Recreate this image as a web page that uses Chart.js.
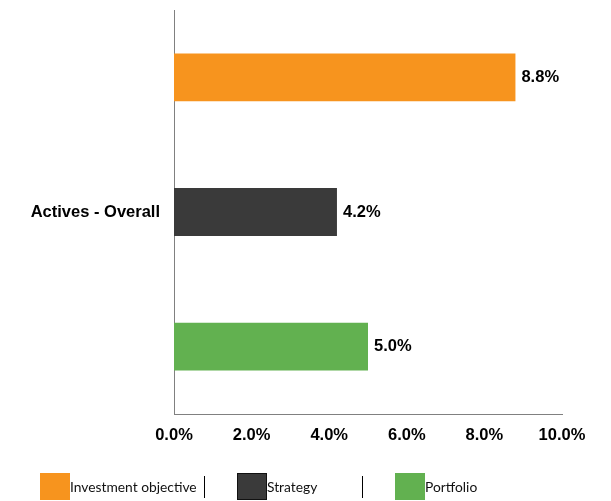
<!DOCTYPE html>
<html>
<head>
<meta charset="utf-8">
<script src="https://cdn.jsdelivr.net/npm/chart.js@4"></script>
<style>
  html, body { margin: 0; padding: 0; background: #fff; }
  #wrap { width: 611px; height: 501px; position: relative; }
</style>
</head>
<body>
<div id="wrap"><canvas id="chart"></canvas></div>
<script>
// Chart data
const categories = ['Actives - Overall'];
const seriesNames = ['Investment objective', 'Strategy', 'Portfolio'];
const seriesValues = [[8.8], [4.2], [5.0]];
const seriesColors = ['#f7941e', '#3a3a3a', '#62b150'];
const tickValues = [0, 2, 4, 6, 8, 10];

const fmt = v => v.toFixed(1) + '%';
const boldFont = '"Liberation Sans", Arial, sans-serif';

// Value labels at the end of each bar
const barLabels = {
    id: 'barLabels',
    afterDatasetsDraw(chart) {
        const ctx = chart.ctx;
        ctx.save();
        ctx.font = 'bold 16.5px ' + boldFont;
        ctx.fillStyle = '#000';
        ctx.textAlign = 'left';
        ctx.textBaseline = 'middle';
        chart.data.datasets.forEach((ds, i) => {
            chart.getDatasetMeta(i).data.forEach((bar, j) => {
                ctx.fillText(fmt(ds.data[j]), bar.x + 6, bar.y);
            });
        });
        ctx.restore();
    }
};

// Legend along the bottom, items split by thin vertical lines
const bottomLegend = {
    id: 'bottomLegend',
    afterDraw(chart) {
        const ctx = chart.ctx;
        const y = 473, boxW = 30, boxH = 27;
        const starts = [40, 237, 395];
        const seps = [204, 362];
        ctx.save();
        ctx.font = '13.8px Lato, "Open Sans", sans-serif';
        ctx.textBaseline = 'middle';
        chart.data.datasets.forEach((ds, i) => {
            const x = starts[i];
            ctx.fillStyle = ds.backgroundColor;
            ctx.fillRect(x, y, boxW, boxH);
            if (i === 1) {
                ctx.strokeStyle = '#111';
                ctx.lineWidth = 1;
                ctx.strokeRect(x + 0.5, y + 0.5, boxW - 1, boxH - 1);
            }
            ctx.fillStyle = '#111';
            ctx.fillText(ds.label, x + boxW, y + boxH / 2 + 1);
        });
        ctx.strokeStyle = '#000';
        ctx.lineWidth = 1;
        seps.forEach(sx => {
            ctx.beginPath();
            ctx.moveTo(sx + 0.5, 476);
            ctx.lineTo(sx + 0.5, 498);
            ctx.stroke();
        });
        ctx.restore();
    }
};

new Chart(document.getElementById('chart'), {
    type: 'bar',
    data: {
        labels: categories,
        datasets: seriesNames.map((name, i) => ({
            label: name,
            data: seriesValues[i],
            backgroundColor: seriesColors[i],
            barPercentage: 0.355,
            categoryPercentage: 1.0
        }))
    },
    options: {
        indexAxis: 'y',
        responsive: true,
        maintainAspectRatio: false,
        animation: false,
        layout: { padding: { top: 10, right: 49, bottom: 50, left: 0 } },
        plugins: {
            legend: { display: false },
            tooltip: { enabled: false }
        },
        scales: {
            x: {
                min: 0,
                max: 10,
                afterBuildTicks: axis => { axis.ticks = tickValues.map(v => ({ value: v })); },
                afterFit: axis => { axis.height = 37; axis.paddingLeft = 0; axis.paddingRight = 0; },
                grid: { display: false, drawTicks: false },
                border: { display: true, color: '#808080', width: 1 },
                ticks: {
                    padding: 12,
                    color: '#000',
                    font: { family: boldFont, size: 16.5, weight: 'bold' },
                    callback: v => fmt(v),
                    maxRotation: 0
                }
            },
            y: {
                afterFit: axis => { axis.width = 174; axis.paddingTop = 0; axis.paddingBottom = 0; },
                grid: { display: false, drawTicks: false },
                border: { display: true, color: '#808080', width: 1 },
                ticks: {
                    padding: 14,
                    color: '#000',
                    font: { family: boldFont, size: 16.5, weight: 'bold' }
                }
            }
        }
    },
    plugins: [barLabels, bottomLegend]
});
</script>
</body>
</html>
